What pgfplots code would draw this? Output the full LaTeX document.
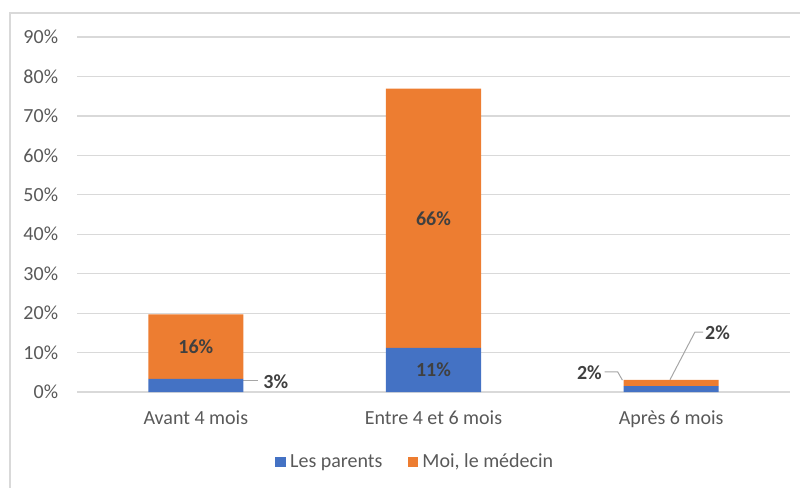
\documentclass[border=0pt]{standalone}
\usepackage{pgfplots}
\pgfplotsset{compat=1.18}
\usepackage{fontspec}
\setmainfont{Carlito}

\definecolor{parents}{HTML}{4472C4}
\definecolor{medecin}{HTML}{ED7D31}
\definecolor{grille}{HTML}{D9D9D9}
\definecolor{texte}{HTML}{595959}
\definecolor{etiq}{HTML}{404040}
\definecolor{trait}{HTML}{A6A6A6}

\newcommand{\police}{\fontsize{15}{18}\selectfont}

\begin{document}
\begin{tikzpicture}[
    lab/.style={font=\police\bfseries, text=etiq, inner sep=0pt},
    leader/.style={draw=trait, line width=0.75pt},
]
\path[use as bounding box] (0,0) rectangle (600pt,365.25pt);
\draw[grille, line width=1pt] (7.5pt,-2pt) -- (7.5pt,355.5pt) -- (602pt,355.5pt);

\begin{axis}[
    at={(57.75pt,71.25pt)}, anchor=south west,
    scale only axis,
    width=534.75pt, height=266.25pt,
    ybar stacked, bar width=0.4,
    xmin=-0.5, xmax=2.5,
    ymin=0, ymax=90,
    xtick={0,1,2},
    xticklabels={Avant 4 mois, Entre 4 et 6 mois, Après 6 mois},
    ytick={0,10,...,90},
    yticklabel={\pgfmathprintnumber{\tick}\%},
    /pgf/number format/assume math mode=true,
    ticklabel style={font=\police, text=texte, inner sep=0pt},
    xticklabel style={anchor=north, yshift=-14pt},
    yticklabel style={anchor=east, xshift=-14pt},
    major tick length=0pt,
    axis line style={draw=none},
    ymajorgrids,
    major grid style={grille, line width=0.9pt},
    legend style={
        at={(0.475,-0.197)}, anchor=center,
        draw=none, fill=none,
        legend columns=2,
        font=\police, text=texte,
        /tikz/every odd column/.append style={column sep=1pt},
        /tikz/every even column/.append style={column sep=17pt},
    },
    legend image code/.code={\fill[#1] (0pt,-4pt) rectangle (8pt,4pt);},
]

\addplot[fill=parents, draw=none] coordinates {(0,3.3) (1,11.2) (2,1.5)};
\addlegendentry{Les parents}
\addplot[fill=medecin, draw=none] coordinates {(0,16.4) (1,65.7) (2,1.6)};
\addlegendentry{Moi, le médecin}

% positions des étiquettes
\coordinate (e16) at (axis cs:0,11.5);
\coordinate (e66) at (axis cs:1,44.05);
\coordinate (e11) at (axis cs:1,5.6);

\draw[leader] (axis cs:0.2,2.9) -- (axis cs:0.262,2.9);
\node[lab, anchor=west] at (axis cs:0.283,2.7) {3\%};

\draw[leader] (axis cs:1.72,5.1) -- (axis cs:1.775,5.1) -- (axis cs:1.795,3.0);
\node[lab, anchor=east] at (axis cs:1.709,4.9) {2\%};

\draw[leader] (axis cs:2.134,15.2) -- (axis cs:2.100,15.2) -- (axis cs:1.995,3.1);
\node[lab, anchor=west] at (axis cs:2.142,15.0) {2\%};
\end{axis}

\node[lab] at (e16) {16\%};
\node[lab] at (e66) {66\%};
\node[lab] at (e11) {11\%};
\end{tikzpicture}
\end{document}
